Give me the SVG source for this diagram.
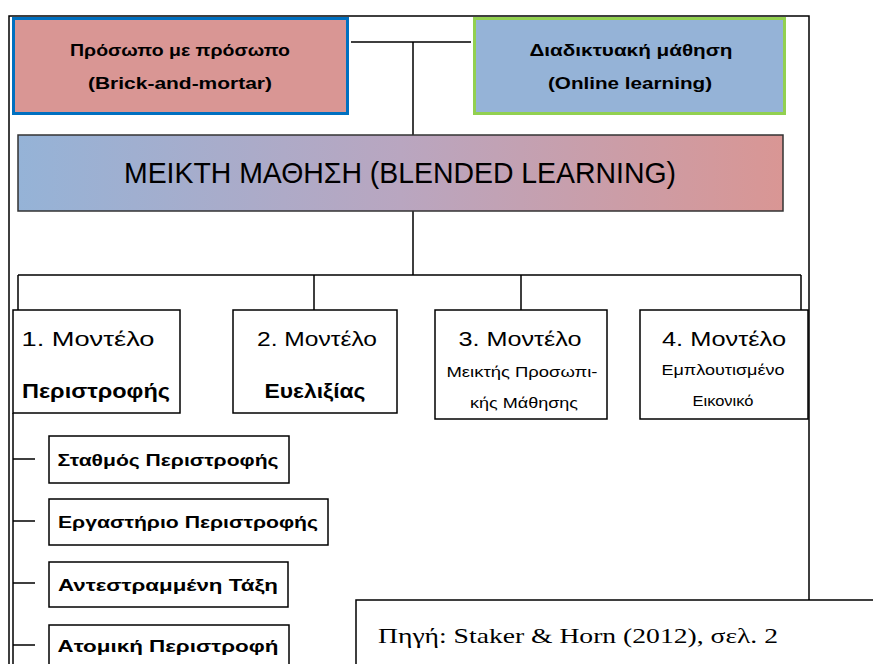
<svg xmlns="http://www.w3.org/2000/svg" width="873" height="664" viewBox="0 0 873 664">
<defs>
<linearGradient id="grad" x1="0" y1="0" x2="1" y2="0">
<stop offset="0" stop-color="#95b3d7"/>
<stop offset="0.5" stop-color="#b9a6c0"/>
<stop offset="1" stop-color="#d99694"/>
</linearGradient>
<style>
.t{font-family:"Liberation Sans",Arial,sans-serif;fill:#000;text-anchor:middle}
.b{font-weight:bold}
.box{fill:#fff;stroke:#000;stroke-width:1.5}
.ln{stroke:#000;stroke-width:1.5;fill:none}
</style>
</defs>
<rect width="873" height="664" fill="#fff"/>
<g id="frame">
<path class="ln" d="M9,664 V16 H809 V600"/>
</g>
<g id="connectors">
<path class="ln" d="M351,42 H471 M413,42 V135"/>
<path class="ln" d="M413,211 V275 M18,275 H801 M18,275 V310 M314,275 V310 M521,275 V310 M801,275 V310"/>
<path class="ln" d="M13,413 V664 M13,459 H35 M13,521 H35 M13,583 H35 M13,645 H35"/>
</g>
<g id="brick">
<rect x="13.5" y="18.5" width="334" height="95" fill="#d99694" stroke="#0070c0" stroke-width="3"/>
<text class="t b" x="180" y="56" font-size="17" textLength="220" lengthAdjust="spacingAndGlyphs">Πρόσωπο με πρόσωπο</text>
<text class="t b" x="180" y="89" font-size="17" textLength="184" lengthAdjust="spacingAndGlyphs">(Brick-and-mortar)</text>
</g>
<g id="online">
<rect x="474.5" y="18.5" width="310" height="95" fill="#95b3d7" stroke="#92d050" stroke-width="3"/>
<text class="t b" x="631" y="56" font-size="17" textLength="203" lengthAdjust="spacingAndGlyphs">Διαδικτυακή μάθηση</text>
<text class="t b" x="630" y="89" font-size="17" textLength="164" lengthAdjust="spacingAndGlyphs">(Online learning)</text>
</g>
<g id="blended">
<rect x="18" y="135" width="765" height="76" fill="url(#grad)" stroke="#333" stroke-width="1.5"/>
<text class="t" x="400" y="183" font-size="30" textLength="552" lengthAdjust="spacingAndGlyphs">ΜΕΙΚΤΗ ΜΑΘΗΣΗ (BLENDED LEARNING)</text>
</g>
<g id="m1">
<rect class="box" x="13" y="310" width="167" height="103"/>
<text class="t" x="88" y="346" font-size="20" textLength="133" lengthAdjust="spacingAndGlyphs">1. Μοντέλο</text>
<text class="t b" x="96" y="398" font-size="21" textLength="148" lengthAdjust="spacingAndGlyphs">Περιστροφής</text>
</g>
<g id="m2">
<rect class="box" x="233" y="310" width="164" height="103"/>
<text class="t" x="317" y="346" font-size="20" textLength="120" lengthAdjust="spacingAndGlyphs">2. Μοντέλο</text>
<text class="t b" x="315" y="398" font-size="21" textLength="101" lengthAdjust="spacingAndGlyphs">Ευελιξίας</text>
</g>
<g id="m3">
<rect class="box" x="435" y="310" width="172" height="109"/>
<text class="t" x="520" y="346" font-size="20" textLength="123" lengthAdjust="spacingAndGlyphs">3. Μοντέλο</text>
<text class="t" x="522" y="377" font-size="15" textLength="151" lengthAdjust="spacingAndGlyphs">Μεικτής Προσωπι-</text>
<text class="t" x="524" y="408" font-size="15" textLength="108" lengthAdjust="spacingAndGlyphs">κής Μάθησης</text>
</g>
<g id="m4">
<rect class="box" x="640" y="310" width="168" height="109"/>
<text class="t" x="724" y="346" font-size="20" textLength="124" lengthAdjust="spacingAndGlyphs">4. Μοντέλο</text>
<text class="t" x="723" y="375" font-size="15" textLength="123" lengthAdjust="spacingAndGlyphs">Εμπλουτισμένο</text>
<text class="t" x="723" y="406" font-size="15" textLength="61" lengthAdjust="spacingAndGlyphs">Εικονικό</text>
</g>
<g id="s1">
<rect class="box" x="49" y="436" width="240" height="47"/>
<text class="t b" x="168" y="466" font-size="16" textLength="221" lengthAdjust="spacingAndGlyphs">Σταθμός Περιστροφής</text>
</g>
<g id="s2">
<rect class="box" x="49" y="499" width="279" height="46"/>
<text class="t b" x="188" y="528" font-size="16" textLength="260" lengthAdjust="spacingAndGlyphs">Εργαστήριο Περιστροφής</text>
</g>
<g id="s3">
<rect class="box" x="49" y="562" width="239" height="45"/>
<text class="t b" x="168" y="591" font-size="16" textLength="220" lengthAdjust="spacingAndGlyphs">Αντεστραμμένη Τάξη</text>
</g>
<g id="s4">
<rect class="box" x="49" y="625" width="240" height="45"/>
<text class="t b" x="168" y="652" font-size="16" textLength="221" lengthAdjust="spacingAndGlyphs">Ατομική Περιστροφή</text>
</g>
<g id="source">
<rect x="356" y="600" width="520" height="70" fill="#fff" stroke="#000" stroke-width="1.5"/>
<text x="378" y="643" font-family="'Liberation Serif','Times New Roman',serif" font-size="22" textLength="400" lengthAdjust="spacingAndGlyphs">Πηγή: Staker &amp; Horn (2012), σελ. 2</text>
</g>
</svg>
